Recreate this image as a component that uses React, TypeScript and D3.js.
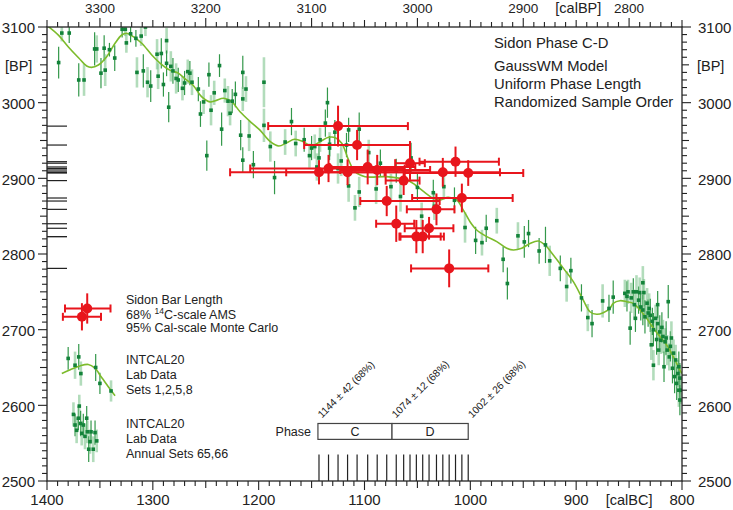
import React from "react";
import * as d3 from "d3";

const FONT = "'Liberation Sans', Arial, Helvetica, sans-serif";

// ---------- axis tick labels ----------
const calBCTicks = [1400, 1300, 1200, 1100, 1000, 900, 800];
const calBPTicks = [3300, 3200, 3100, 3000, 2900, 2800];
const bpTicks = [3100, 3000, 2900, 2800, 2700, 2600, 2500];

// ---------- Sidon samples (calBC median, BP, 1 sigma, 95% cal range) ----------
const sidonCalBC = [1143, 1134, 1125, 1116, 1107, 1097, 1088, 1079, 1070, 1063, 1057, 1051, 1045, 1039, 1032, 1026, 1020, 1014, 1008, 1002];
const sidonBP = [2908, 2913, 2969, 2908, 2944, 2915, 2911, 2870, 2840, 2897, 2920, 2823, 2823, 2834, 2859, 2908, 2781, 2922, 2874, 2907];
const sidonSigma = [16, 18, 27, 17, 20, 23, 20, 20, 24, 19, 22, 22, 22, 15, 21, 19, 25, 20, 19, 17];
const sidonCalFrom = [1227, 1208, 1191, 1174, 1157, 1133, 1123, 1104, 1089, 1080, 1071, 1067, 1066, 1062, 1060, 1081, 1056, 1048, 1055, 1062];
const sidonCalTo = [1080, 1062, 1059, 1057, 1057, 1052, 1038, 1029, 1053, 1048, 1043, 1028, 1025, 1016, 1015, 972, 983, 973, 960, 950];

// ---------- phase model ----------
const phaseNames = ["C", "D"];
const boundaryBC = [1144, 1074, 1002];
const boundaryLabels = ["1144 ± 42 (68%)", "1074 ± 12 (68%)", "1002 ± 26 (68%)"];

// ---------- INTCAL20 lab data ----------
const labBC = [
  1389, 1386, 1379, 1370, 1365, 1355, 1353, 1349, 1346, 1345, 1341, 1336, 1329, 1326, 1325, 1321, 1316, 1315, 1311, 1309,
  1307, 1305, 1302, 1296, 1295, 1292, 1287, 1290, 1287, 1285, 1283, 1281, 1278, 1276, 1272, 1270, 1267, 1265, 1263, 1257,
  1255, 1247, 1245, 1252, 1249, 1242, 1237, 1235, 1232, 1229, 1227, 1225, 1222, 1217, 1215, 1215, 1215, 1212, 1209, 1205,
  1195, 1195, 1189, 1185, 1175, 1169, 1165, 1157, 1152, 1150, 1147, 1145, 1143, 1142, 1137, 1135, 1133, 1128, 1125, 1115,
  1133, 1122, 1117, 1115, 1109, 1105, 1105, 1096, 1089, 1085, 1075, 1070, 1066, 1050, 1046, 1035, 1025, 1015, 1005, 995,
  989, 985, 975, 969, 965, 955, 949, 945, 935, 929, 925, 915, 909, 905, 895, 889, 885, 875, 869, 865,
  1034, 1056,
  854, 852, 851, 849, 848, 846, 845, 844, 843, 841, 840, 839, 837, 837, 836, 835, 833, 832, 831, 830,
  829, 828, 827, 827, 825, 824, 823, 823, 822, 821, 820, 819, 818, 817, 816, 815, 814, 813, 812, 811,
  810, 809, 808, 807, 806, 805, 804, 803, 803, 802, 801, 802,
];
const labBP = [
  3053, 3092, 3092, 3030, 3030, 3071, 3071, 3039, 3072, 3043, 3070, 3059, 3097, 3097, 3079, 3091, 3085, 3040, 3088, 3042,
  3100, 3027, 3022, 3064, 3035, 3065, 3082, 3024, 3052, 2994, 3048, 3042, 3032, 3030, 3019, 3026, 3041, 3039, 3027, 3018,
  2985, 3037, 2990, 3001, 2930, 3013, 3049, 2965, 3016, 3002, 2986, 3002, 3011, 2957, 3040, 3005, 2924, 3018, 2956, 2918,
  3027, 2970, 2942, 2901, 2948, 2975, 2946, 2951, 2930, 2940, 2942, 2915, 2927, 2951, 2973, 3000, 2945, 2961, 2913, 2890,
  2940, 2923, 2944, 2964, 2861, 2882, 2965, 2934, 2886, 2920, 2889, 2910, 2876, 2888, 2850, 2881, 2889, 2871, 2835, 2818,
  2815, 2834, 2844, 2793, 2761, 2824, 2816, 2827, 2804, 2812, 2791, 2781, 2757, 2778, 2742, 2716, 2708, 2738, 2728, 2743,
  2863, 2927,
  2748, 2744, 2750, 2702, 2742, 2750, 2733, 2715, 2750, 2739, 2749, 2730, 2762, 2726, 2749, 2717, 2735, 2722, 2728, 2719,
  2680, 2711, 2653, 2700, 2715, 2687, 2708, 2733, 2673, 2697, 2686, 2703, 2691, 2651, 2684, 2689, 2673, 2737, 2664, 2678,
  2689, 2649, 2669, 2638, 2660, 2629, 2642, 2651, 2620, 2636, 2620, 2607,
];
const labErr = [
  21, 11, 13, 22, 21, 22, 18, 20, 17, 21, 9, 17, 11, 9, 13, 11, 11, 20, 13, 22,
  12, 20, 21, 20, 17, 20, 17, 16, 17, 20, 20, 17, 20, 16, 16, 16, 16, 16, 17, 16,
  17, 16, 20, 16, 20, 16, 15, 22, 16, 20, 16, 16, 17, 20, 22, 16, 17, 17, 20, 18,
  33, 22, 20, 22, 17, 18, 17, 16, 16, 16, 16, 18, 16, 16, 18, 20, 16, 16, 20, 21,
  16, 20, 16, 16, 17, 20, 22, 17, 20, 18, 17, 16, 20, 18, 18, 17, 17, 17, 20, 18,
  17, 18, 17, 17, 21, 18, 21, 18, 17, 24, 20, 17, 20, 17, 18, 18, 18, 22, 18, 22,
  18, 20,
  18, 20, 16, 22, 20, 18, 20, 18, 22, 18, 20, 18, 22, 20, 18, 22, 20, 18, 20, 22,
  20, 18, 20, 22, 18, 20, 22, 18, 20, 22, 18, 20, 22, 20, 18, 22, 20, 22, 18, 20,
  22, 20, 18, 22, 20, 22, 18, 20, 22, 20, 18, 20,
];
const labKind = [
  "d", "l", "d", "d", "l", "d", "l", "d", "d", "l", "d", "d", "d", "l", "l", "d", "d", "l", "l", "d",
  "l", "l", "d", "l", "l", "d", "l", "d", "d", "d", "l", "d", "l", "d", "l", "d", "l", "d", "l", "d",
  "d", "d", "l", "l", "d", "l", "d", "d", "l", "l", "l", "d", "d", "d", "d", "l", "d", "l", "l", "d",
  "l", "l", "l", "d", "l", "d", "l", "d", "l", "d", "l", "l", "d", "l", "d", "d", "l", "d", "l", "l",
  "d", "l", "d", "d", "l", "l", "d", "l", "l", "d", "l", "d", "l", "d", "l", "d", "l", "d", "l", "d",
  "l", "d", "l", "d", "d", "l", "d", "d", "d", "d", "l", "d", "l", "d", "d", "l", "d", "l", "d", "d",
  "l", "d",
  "l", "d", "l", "d", "l", "d", "l", "d", "l", "d", "l", "d", "l", "d", "l", "d", "l", "d", "l", "d",
  "l", "d", "l", "d", "l", "d", "l", "d", "l", "d", "l", "d", "l", "d", "l", "d", "l", "d", "l", "d",
  "l", "d", "l", "d", "l", "d", "l", "d", "l", "d", "l", "d",
];

// ---------- INTCAL20 curve ----------
const curveBC = [
  1400, 1389, 1380, 1370, 1362.5, 1358, 1351.5, 1343.6, 1335.7, 1329.4, 1324.7, 1318.5, 1310.5, 1301, 1293, 1284, 1276, 1270, 1262, 1254,
  1246, 1241, 1233, 1225.5, 1217.6, 1208, 1199, 1189, 1181, 1173.5, 1166, 1158, 1150, 1142, 1134, 1128, 1121.5, 1115, 1109, 1099.5,
  1079, 1060, 1052, 1044, 1035, 1029, 1021, 1013, 1006.6, 1000.3, 994, 984.5, 975, 965.6, 959.4, 951.5, 943.6, 935.8, 929.5, 921.6,
  912, 902.7, 893.3, 887, 880.6, 874.4, 868, 865, 858.6, 852.2, 846, 839.7, 833.4, 827, 820.8, 814.5, 808.2, 802, 800,
];
const curveBP = [
  3102, 3089, 3074, 3059, 3048.5, 3046.7, 3049.8, 3060.8, 3078.5, 3089.4, 3091.7, 3087.2, 3078.5, 3063, 3052, 3043, 3039, 3032, 3023, 3008,
  3001, 3002.6, 3005.8, 3001.3, 2988, 2975, 2964, 2948.4, 2942.7, 2947, 2951.6, 2948.4, 2942.7, 2948.4, 2954.2, 2954, 2946.3, 2924, 2908.8, 2902.2,
  2902.2, 2897.8, 2891.2, 2882.3, 2873.6, 2871.4, 2875, 2871.4, 2858, 2842.7, 2831.7, 2823, 2816.3, 2807.5, 2805.3, 2807.5, 2814, 2817.2, 2812, 2798.7,
  2781, 2763.4, 2739, 2723.7, 2720.3, 2722.4, 2728.2, 2734.8, 2738.3, 2737, 2734.8, 2726, 2715, 2701.8, 2690.7, 2679.7, 2664.3, 2646.7, 2642,
];

// ---------- legend samples ----------
const legSidonBC = [1367, 1362];
const legSidonBP = [2717, 2728];
const legSidonSigma = [18, 20];
const legSidonFrom = [1385, 1383];
const legSidonTo = [1349, 1340];

const legLabBC = [1380, 1373.5, 1370, 1368, 1354, 1350, 1339.5];
const legLabBP = [2662, 2653, 2664, 2642, 2650, 2629, 2619];
const legLabErr = [15, 18, 17, 16, 18, 14, 14];
const legLabKind = ["d", "l", "d", "l", "d", "d", "l"];
const legCurveBC = [1386, 1378, 1369, 1361, 1355, 1348, 1340.5, 1335.7];
const legCurveBP = [2642, 2647, 2652, 2654, 2649.4, 2636, 2621.6, 2612.8];

const legAnnBC = [1375, 1373.5, 1372, 1370.4, 1369.5, 1368.2, 1367.2, 1365.7, 1364.1, 1362.5, 1361.9, 1360.6, 1359.4, 1358.4, 1356.3, 1354.6, 1353];
const legAnnBP = [2588, 2574, 2567, 2583, 2599, 2576, 2563, 2574, 2559, 2583, 2565, 2542, 2552, 2565, 2542, 2564, 2553];
const legAnnErr = [16, 15, 17, 16, 15, 17, 16, 15, 17, 16, 15, 17, 16, 15, 17, 16, 15];
const legAnnKind = ["l", "d", "l", "d", "l", "d", "l", "d", "l", "d", "l", "d", "l", "d", "l", "d", "l"];

const RED = "#e8151c";
const DARKG = "#33984a";
const LIGHTG = "#7fc58e";
const SQ = "#13833a";
const CURVE = "#7cbb2b";
const AX = "#222";

export default function App() {
  const L = 47, R = 682, T = 27, B = 481;
  const x = d3.scaleLinear().domain([1400, 800]).range([L, R]);
  const xBP = d3.scaleLinear().domain([3350, 2750]).range([L, R]);
  const y = d3.scaleLinear().domain([3100, 2500]).range([T, B]);

  const curveLine = d3
    .line<number>()
    .x((_, i) => x(curveBC[i]))
    .y((_, i) => y(curveBP[i]))
    .curve(d3.curveCatmullRom);
  const legCurveLine = d3
    .line<number>()
    .x((_, i) => x(legCurveBC[i]))
    .y((_, i) => y(legCurveBP[i]))
    .curve(d3.curveCatmullRom);

  const minorBC = d3.range(1400, 799, -10);
  const minorCalBP = d3.range(3350, 2749, -10);
  const minorBP = d3.range(3100, 2499, -10);

  const labPoint = (bc: number, bp: number, err: number, kind: string, key: string) => (
    <g key={key}>
      {kind === "l" ? (
        <line x1={x(bc)} x2={x(bc)} y1={y(bp + err)} y2={y(bp - err)} stroke={LIGHTG} strokeOpacity={0.6} strokeWidth={2.6} />
      ) : (
        <line x1={x(bc)} x2={x(bc)} y1={y(bp + err)} y2={y(bp - err)} stroke={DARKG} strokeWidth={1.2} />
      )}
    </g>
  );

  const sidonMark = (bc: number, bp: number, s: number, f: number, t: number, key: string) => (
    <g key={key}>
      <line x1={x(f)} x2={x(t)} y1={y(bp)} y2={y(bp)} stroke={RED} strokeWidth={2} />
      <line x1={x(f)} x2={x(f)} y1={y(bp) - 4} y2={y(bp) + 4} stroke={RED} strokeWidth={2} />
      <line x1={x(t)} x2={x(t)} y1={y(bp) - 4} y2={y(bp) + 4} stroke={RED} strokeWidth={2} />
      <line x1={x(bc)} x2={x(bc)} y1={y(bp + s)} y2={y(bp - s)} stroke={RED} strokeWidth={2} />
    </g>
  );

  const boxTop = y(2576), boxBot = y(2555);

  return (
    <svg width={733} height={510} style={{ position: "absolute", left: 0, top: 0, background: "#fff" }} fontFamily={FONT}>
      <defs>
        <clipPath id="plotclip">
          <rect x={L} y={T} width={R - L} height={B - T} />
        </clipPath>
      </defs>
      <rect x={0} y={0} width={733} height={510} fill="#fff" />

      {/* left rug of sample BP */}
      {sidonBP.map((bp, i) => (
        <line key={"lr" + i} x1={L} x2={L + 20} y1={y(bp)} y2={y(bp)} stroke={AX} strokeWidth={1.2} />
      ))}
      {/* bottom rug of sample dates */}
      {sidonCalBC.map((bc, i) => (
        <line key={"br" + i} x1={x(bc)} x2={x(bc)} y1={y(2535)} y2={B} stroke={AX} strokeWidth={1.2} />
      ))}

      <g clipPath="url(#plotclip)">
        {labBC.map((bc, i) => labPoint(bc, labBP[i], labErr[i], labKind[i], "lp" + i))}
        <path d={curveLine(curveBC) || ""} fill="none" stroke={CURVE} strokeWidth={1.6} />
        {labBC.map((bc, i) => (
          <rect key={"sq" + i} x={x(bc) - 1.8} y={y(labBP[i]) - 1.8} width={3.6} height={3.6} fill={SQ} />
        ))}
        {sidonCalBC.map((bc, i) => sidonMark(bc, sidonBP[i], sidonSigma[i], sidonCalFrom[i], sidonCalTo[i], "sm" + i))}
        {sidonCalBC.map((bc, i) => (
          <circle key={"sc" + i} cx={x(bc)} cy={y(sidonBP[i])} r={5} fill={RED} />
        ))}
      </g>

      {/* legend glyphs */}
      {legSidonBC.map((bc, i) => sidonMark(bc, legSidonBP[i], legSidonSigma[i], legSidonFrom[i], legSidonTo[i], "lsm" + i))}
      {legSidonBC.map((bc, i) => (
        <circle key={"lsc" + i} cx={x(bc)} cy={y(legSidonBP[i])} r={5} fill={RED} />
      ))}
      {legLabBC.map((bc, i) => labPoint(bc, legLabBP[i], legLabErr[i], legLabKind[i], "llp" + i))}
      <path d={legCurveLine(legCurveBC) || ""} fill="none" stroke={CURVE} strokeWidth={1.6} />
      {legLabBC.map((bc, i) => (
        <rect key={"lsq" + i} x={x(bc) - 1.8} y={y(legLabBP[i]) - 1.8} width={3.6} height={3.6} fill={SQ} />
      ))}
      {legAnnBC.map((bc, i) => labPoint(bc, legAnnBP[i], legAnnErr[i], legAnnKind[i], "lap" + i))}
      {legAnnBC.map((bc, i) => (
        <rect key={"lasq" + i} x={x(bc) - 1.8} y={y(legAnnBP[i]) - 1.8} width={3.6} height={3.6} fill={SQ} />
      ))}

      {/* legend text */}
      <g fontSize={12.5} fill="#222">
        <text x={126} y={304}>Sidon Bar Length</text>
        <text x={126} y={318.5}>
          <tspan>68% </tspan>
          <tspan dy={-4.5} fontSize={8.5}>14</tspan>
          <tspan dy={4.5}>C-scale AMS</tspan>
        </text>
        <text x={126} y={332}>95% Cal-scale Monte Carlo</text>
        <text x={126} y={363.5}>INTCAL20</text>
        <text x={126} y={378.5}>Lab Data</text>
        <text x={126} y={393.5}>Sets 1,2,5,8</text>
        <text x={126} y={427.5}>INTCAL20</text>
        <text x={126} y={442.5}>Lab Data</text>
        <text x={126} y={457.5}>Annual Sets 65,66</text>
      </g>

      {/* title block */}
      <g fontSize={14.8} fill="#222">
        <text x={494} y={48}>Sidon Phase C-D</text>
        <text x={494} y={71}>GaussWM Model</text>
        <text x={494} y={89}>Uniform Phase Length</text>
        <text x={494} y={107}>Randomized Sample Order</text>
      </g>

      {/* phase box */}
      <text x={311} y={436} fontSize={12.5} textAnchor="end" fill="#222">Phase</text>
      {phaseNames.map((p, i) => (
        <g key={"ph" + i}>
          <rect x={x(boundaryBC[i])} y={boxTop} width={x(boundaryBC[i + 1]) - x(boundaryBC[i])} height={boxBot - boxTop} fill="#fff" stroke="#444" strokeWidth={1.2} />
          <text x={(x(boundaryBC[i]) + x(boundaryBC[i + 1])) / 2} y={436} fontSize={12.5} textAnchor="middle" fill="#222">{p}</text>
        </g>
      ))}
      {boundaryBC.map((bc, i) => (
        <text key={"bl" + i} transform={`translate(${x(bc) + 4},${boxTop - 5}) rotate(-45)`} fontSize={10.3} fill="#222">
          {boundaryLabels[i]}
        </text>
      ))}

      {/* frame */}
      <rect x={L} y={T} width={R - L} height={B - T} fill="none" stroke={AX} strokeWidth={1.3} />

      {/* bottom axis */}
      {minorBC.map((v) => {
        const len = v % 100 === 0 ? 9 : v % 50 === 0 ? 7 : 5;
        return <line key={"bt" + v} x1={x(v)} x2={x(v)} y1={B} y2={B + len} stroke={AX} strokeWidth={1.1} />;
      })}
      {calBCTicks.map((v) => (
        <text key={"bl" + v} x={x(v)} y={505} fontSize={15} textAnchor="middle" fill="#222">{v}</text>
      ))}
      <text x={x(850)} y={505} fontSize={14.5} textAnchor="middle" fill="#222">[calBC]</text>

      {/* top axis */}
      {minorCalBP.map((v) => {
        const len = v % 100 === 0 ? 9 : v % 50 === 0 ? 7 : 5;
        return <line key={"tt" + v} x1={xBP(v)} x2={xBP(v)} y1={T} y2={T - len} stroke={AX} strokeWidth={1.1} />;
      })}
      {calBPTicks.map((v) => (
        <text key={"tl" + v} x={xBP(v)} y={13} fontSize={13.5} textAnchor="middle" fill="#222">{v}</text>
      ))}
      <text x={xBP(2848)} y={13} fontSize={14.5} textAnchor="middle" fill="#222">[calBP]</text>

      {/* left & right axes */}
      {minorBP.map((v) => {
        const len = v % 100 === 0 ? 9 : v % 50 === 0 ? 7 : 5;
        return (
          <g key={"lt" + v}>
            <line x1={L} x2={L - len} y1={y(v)} y2={y(v)} stroke={AX} strokeWidth={1.1} />
            <line x1={R} x2={R + len} y1={y(v)} y2={y(v)} stroke={AX} strokeWidth={1.1} />
          </g>
        );
      })}
      {bpTicks.map((v) => (
        <g key={"yl" + v}>
          <text x={35} y={y(v) + 1} dy="0.35em" fontSize={15} textAnchor="end" fill="#222">{v}</text>
          <text x={698} y={y(v) + 1} dy="0.35em" fontSize={15} fill="#222">{v}</text>
        </g>
      ))}
      <text x={5} y={y(3050) + 6} fontSize={14.5} fill="#222">[BP]</text>
      <text x={697} y={y(3050) + 6} fontSize={14.5} fill="#222">[BP]</text>
    </svg>
  );
}
